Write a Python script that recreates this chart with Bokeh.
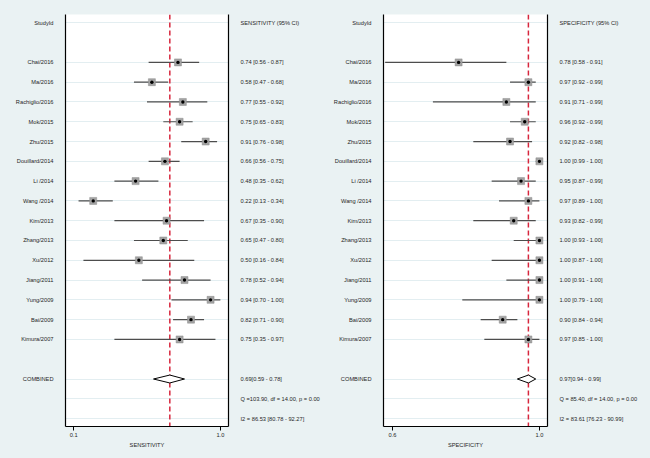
from bokeh.plotting import figure
from bokeh.layouts import row
from bokeh.models import Range1d, FixedTicker, LinearAxis, Span, ColumnDataSource, NumeralTickFormatter
from bokeh.embed import file_html
from bokeh.resources import INLINE

# ---------------- data ----------------
studies = ["Chai/2016", "Ma/2016", "Rachiglio/2016", "Mok/2015", "Zhu/2015",
           "Douillard/2014", "Li /2014", "Wang /2014", "Kim/2013", "Zhang/2013",
           "Xu/2012", "Jiang/2011", "Yung/2009", "Bai/2009", "Kimura/2007"]

sens = [0.74, 0.58, 0.77, 0.75, 0.91, 0.66, 0.48, 0.22, 0.67, 0.65, 0.50, 0.78, 0.94, 0.82, 0.75]
sens_lo = [0.56, 0.47, 0.55, 0.65, 0.76, 0.56, 0.35, 0.13, 0.35, 0.47, 0.16, 0.52, 0.70, 0.71, 0.35]
sens_hi = [0.87, 0.68, 0.92, 0.83, 0.98, 0.75, 0.62, 0.34, 0.90, 0.80, 0.84, 0.94, 1.00, 0.90, 0.97]

spec = [0.78, 0.97, 0.91, 0.96, 0.92, 1.00, 0.95, 0.97, 0.93, 1.00, 1.00, 1.00, 1.00, 0.90, 0.97]
spec_lo = [0.58, 0.92, 0.71, 0.92, 0.82, 0.99, 0.87, 0.89, 0.82, 0.93, 0.87, 0.91, 0.79, 0.84, 0.85]
spec_hi = [0.91, 0.99, 0.99, 0.99, 0.98, 1.00, 0.99, 1.00, 0.99, 1.00, 1.00, 1.00, 1.00, 0.94, 1.00]

sens_comb = [0.69, 0.59, 0.78]      # estimate, lower, upper
spec_comb = [0.97, 0.94, 0.99]
sens_het = [103.90, 14.00, 0.00, 86.53, 80.78, 92.27]   # Q, df, p, I2, I2 lo, I2 hi
spec_het = [85.40, 14.00, 0.00, 83.61, 76.23, 90.99]

sens_ticks = [0.1, 1.0]
spec_ticks = [0.6, 1.0]

# ---------------- style ----------------
BG = "#EAF2F3"
TXT = "#262626"
FONT = "Liberation Sans"
FS = "5.7px"

HEADER_ROW = 0
study_rows = list(range(2, 2 + len(studies)))
COMB_ROW = 18
Q_ROW = 19
I2_ROW = 20


def make_panel(title, est, lo, hi, comb, het, xr, xticks, bl, br):
    p = figure(width=325, height=458, output_backend="svg", toolbar_location=None,
               x_range=Range1d(*xr), y_range=Range1d(20.4, -0.42),
               min_border_left=bl, min_border_right=br, min_border_top=14, min_border_bottom=32,
               background_fill_color="white", border_fill_color=BG, outline_line_color=None)

    rows_all = [HEADER_ROW] + study_rows + [COMB_ROW, Q_ROW, I2_ROW]

    # left axis: study names
    ya = p.yaxis[0]
    ya.ticker = FixedTicker(ticks=rows_all)
    left_lab = {HEADER_ROW: "StudyId", COMB_ROW: "COMBINED", Q_ROW: "", I2_ROW: ""}
    for r, s in zip(study_rows, studies):
        left_lab[r] = s
    ya.major_label_overrides = left_lab
    ya.major_tick_line_color = None
    ya.minor_tick_line_color = None
    ya.major_tick_out = 0
    ya.major_tick_in = 0
    ya.major_label_standoff = 12
    ya.axis_line_color = "black"
    ya.axis_line_width = 1.2
    ya.major_label_text_font = FONT
    ya.major_label_text_font_size = FS
    ya.major_label_text_color = TXT

    # right axis: estimates
    right_lab = {HEADER_ROW: f"{title} (95% CI)"}
    for r, e, l, h in zip(study_rows, est, lo, hi):
        right_lab[r] = f"{e:.2f} [{l:.2f} - {h:.2f}]"
    right_lab[COMB_ROW] = f"{comb[0]:.2f}[{comb[1]:.2f} - {comb[2]:.2f}]"
    right_lab[Q_ROW] = f"Q ={het[0]:6.2f}, df = {het[1]:.2f}, p = {het[2]:5.2f}"
    right_lab[I2_ROW] = f"I2 = {het[3]:.2f} [{het[4]:.2f} - {het[5]:.2f}]"
    ra = LinearAxis(ticker=FixedTicker(ticks=rows_all), major_label_overrides=right_lab,
                    major_tick_line_color=None, minor_tick_line_color=None,
                    major_tick_out=0, major_tick_in=0, major_label_standoff=12,
                    axis_line_color="black", axis_line_width=1.2,
                    major_label_text_font=FONT, major_label_text_font_size=FS,
                    major_label_text_color=TXT)
    p.add_layout(ra, "right")

    # bottom axis
    xa = p.xaxis[0]
    xa.ticker = FixedTicker(ticks=xticks)
    xa.formatter = NumeralTickFormatter(format="0.0")
    xa.axis_label = title
    xa.axis_label_text_font_style = "normal"
    xa.axis_label_text_font = FONT
    xa.axis_label_text_font_size = FS
    xa.axis_label_text_color = TXT
    xa.axis_label_standoff = 2
    xa.major_label_text_font = FONT
    xa.major_label_text_font_size = FS
    xa.major_label_text_color = TXT
    xa.major_label_standoff = 2
    xa.major_tick_out = 4
    xa.major_tick_in = 0
    xa.major_tick_line_color = "black"
    xa.minor_tick_line_color = None
    xa.axis_line_color = "black"
    xa.axis_line_width = 1.2

    p.xgrid.grid_line_color = None
    p.ygrid.grid_line_color = "#E3EEF1"
    p.ygrid.grid_line_width = 1

    # reference line at combined estimate
    p.add_layout(Span(location=comb[0], dimension="height", line_color="#D7263D",
                      line_dash="5 3", line_width=1.5, level="underlay"))

    src = ColumnDataSource(dict(y=study_rows, est=est, lo=lo, hi=hi))
    p.segment(x0="lo", x1="hi", y0="y", y1="y", source=src, line_color="#4d4d4d", line_width=1.2)
    p.scatter(x="est", y="y", source=src, marker="square", size=7,
              fill_color="#a3a3a3", line_color="#8c8c8c", line_width=0.5)
    p.scatter(x="est", y="y", source=src, marker="circle", size=3.4,
              fill_color="black", line_color=None)

    # combined diamond
    p.patch(x=[comb[1], comb[0], comb[2], comb[0]],
            y=[COMB_ROW, COMB_ROW - 0.2, COMB_ROW, COMB_ROW + 0.2],
            fill_color="white", line_color="black", line_width=1)
    return p


left = make_panel("SENSITIVITY", sens, sens_lo, sens_hi, sens_comb, sens_het,
                  (0.05, 1.05), sens_ticks, 65, 97)
right = make_panel("SPECIFICITY", spec, spec_lo, spec_hi, spec_comb, spec_het,
                   (0.5755, 1.022), spec_ticks, 58, 103)

layout = row(left, right)

TEMPLATE = """{% block postamble %}<style>html, body { background-color: #EAF2F3; }</style>{% endblock %}"""

html = file_html(layout, INLINE, title="Forest plot", template=TEMPLATE)
open("out.html", "w").write(html)
